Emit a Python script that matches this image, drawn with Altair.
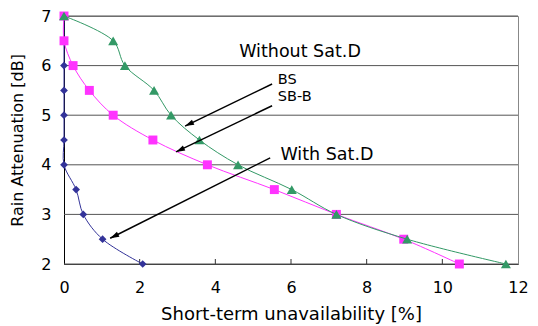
import math
import altair as alt
import pandas as pd

# ---- data ----
atten = [7, 6.5, 6, 5.5, 5, 4.5, 4, 3.5, 3, 2.5, 2]
with_sat_x = [0, 0, 0, 0, 0, 0, 0, 0.32, 0.51, 1.02, 2.08]
bs_x = [0, 1.30, 1.61, 2.38, 2.83, 3.58, 4.60, 6.02, 7.20, 9.07, 11.68]
sbb_x = [0, 0, 0.24, 0.67, 1.30, 2.35, 3.79, 5.56, 7.20, 8.98, 10.45]

x_ticks = [0, 2, 4, 6, 8, 10, 12]
y_ticks = [2, 3, 4, 5, 6, 7]

big_text = ["Without Sat.D", "With Sat.D"]
big_x = [4.63, 5.72]
big_y = [6.28, 4.20]
small_text = ["BS", "SB-B"]
small_x = [5.65, 5.65]
small_y = [5.70, 5.36]

arrow_x1 = [5.50, 5.50, 5.45]
arrow_y1 = [5.63, 5.19, 4.14]
arrow_x2 = [3.20, 2.96, 1.22]
arrow_y2 = [4.78, 4.26, 2.52]

W, H = 454, 248
XMAX, YMIN, YMAX = 12, 2, 7

rows = []
for name, xs in [("With Sat.D", with_sat_x), ("SB-B", sbb_x), ("BS", bs_x)]:
    for i, (x, y) in enumerate(zip(xs, atten)):
        rows.append({"series": name, "x": x, "y": y, "i": i})
df = pd.DataFrame(rows)

sx, sy = W / XMAX, H / (YMAX - YMIN)
arrows = []
for a, b, c, d in zip(arrow_x1, arrow_y1, arrow_x2, arrow_y2):
    dx, dy = (c - a) * sx, -(d - b) * sy
    ang = math.degrees(math.atan2(dx, -dy)) % 360
    arrows.append({"x1": a, "y1": b, "x2": c, "y2": d, "ang": ang})
adf = pd.DataFrame(arrows)
bdf = pd.DataFrame({"t": big_text, "x": big_x, "y": big_y})
sdf = pd.DataFrame({"t": small_text, "x": small_x, "y": small_y})
tdf = pd.DataFrame({"x": x_ticks[1:-1]})

FONT = "DejaVu Sans"

xs = alt.Scale(domain=[0, XMAX], nice=False, zero=False)
ys = alt.Scale(domain=[YMIN, YMAX], nice=False, zero=False)

series_dom = ["With Sat.D", "SB-B", "BS"]
line_col = alt.Scale(domain=series_dom, range=["#333399", "#ff33ff", "#339966"])
mark_col = alt.Scale(domain=series_dom, range=["#000080", "#ff00ff", "#339966"])
shapes = alt.Scale(domain=series_dom, range=["diamond", "square", "triangle-up"])
sizes = alt.Scale(domain=series_dom, range=[60, 100, 120])

base = alt.Chart(df)

grid = alt.Chart(pd.DataFrame({"y": y_ticks})).mark_rule(color="#555555", strokeWidth=1).encode(
    y=alt.Y("y:Q", scale=ys, axis=alt.Axis(
        values=y_ticks, title="Rain Attenuation [dB]", ticks=False, grid=False, labelFlush=False,
        domainColor="#000000", labelPadding=13, titlePadding=15, titleFontSize=16)),
)

xaxis_layer = alt.Chart(pd.DataFrame({"x": [0]})).mark_rule(opacity=0).encode(
    x=alt.X("x:Q", scale=xs, axis=alt.Axis(
        values=x_ticks, title="Short-term unavailability [%]", ticks=False, grid=False, labelFlush=False,
        domainColor="#333333", labelPadding=15, titlePadding=10, titleFontSize=18)),
)

ticks = alt.Chart(tdf).mark_rule(color="#333333").encode(
    x=alt.X("x:Q", scale=xs), y=alt.value(H), y2=alt.value(H - 5)
)

lines = []
markers = []
for s in series_dom:
    sub = base.transform_filter(alt.datum.series == s)
    lines.append(sub.mark_line(interpolate="catmull-rom", strokeWidth=1).encode(
        x=alt.X("x:Q", scale=xs), y=alt.Y("y:Q", scale=ys), order="i:Q",
        color=alt.Color("series:N", scale=line_col, legend=None)))
    markers.append(sub.mark_point(filled=True, opacity=1).encode(
        x=alt.X("x:Q", scale=xs), y=alt.Y("y:Q", scale=ys),
        color=alt.Color("series:N", scale=mark_col, legend=None),
        shape=alt.Shape("series:N", scale=shapes, legend=None),
        size=alt.Size("series:N", scale=sizes, legend=None)))

layers = []
for l, m in zip(lines, markers):
    layers += [l, m]

arrow_lines = alt.Chart(adf).mark_rule(color="#000000", strokeWidth=1.5).encode(
    x=alt.X("x1:Q", scale=xs), y=alt.Y("y1:Q", scale=ys),
    x2="x2:Q", y2="y2:Q")
arrow_heads = alt.Chart(adf).mark_point(
    shape="M0,0L-0.55,1.8L0.55,1.8Z", filled=True, color="#000000", size=100, opacity=1
).encode(x=alt.X("x2:Q", scale=xs), y=alt.Y("y2:Q", scale=ys), angle=alt.Angle("ang:Q", scale=None))

big_labels = alt.Chart(bdf).mark_text(align="left", baseline="middle", font=FONT, fontSize=17.5,
                                      color="#000000").encode(
    x=alt.X("x:Q", scale=xs), y=alt.Y("y:Q", scale=ys), text="t:N")
small_labels = alt.Chart(sdf).mark_text(align="left", baseline="middle", font=FONT, fontSize=14.5,
                                        color="#000000").encode(
    x=alt.X("x:Q", scale=xs), y=alt.Y("y:Q", scale=ys), text="t:N")

chart = alt.layer(grid, xaxis_layer, ticks, *layers, arrow_lines, arrow_heads,
                  big_labels, small_labels).properties(
    width=W, height=H,
    autosize=alt.AutoSizeParams(type="none"),
    padding={"left": 56, "top": 8, "right": 12, "bottom": 62},
    background="#ffffff",
).configure_view(stroke="#888888", strokeWidth=1).configure_axis(
    labelFont=FONT, titleFont=FONT, labelFontSize=16,
    labelColor="#000000", titleColor="#000000", titleFontWeight="normal",
)

chart.save("out.html", embed_options={"renderer": "svg", "actions": False})
